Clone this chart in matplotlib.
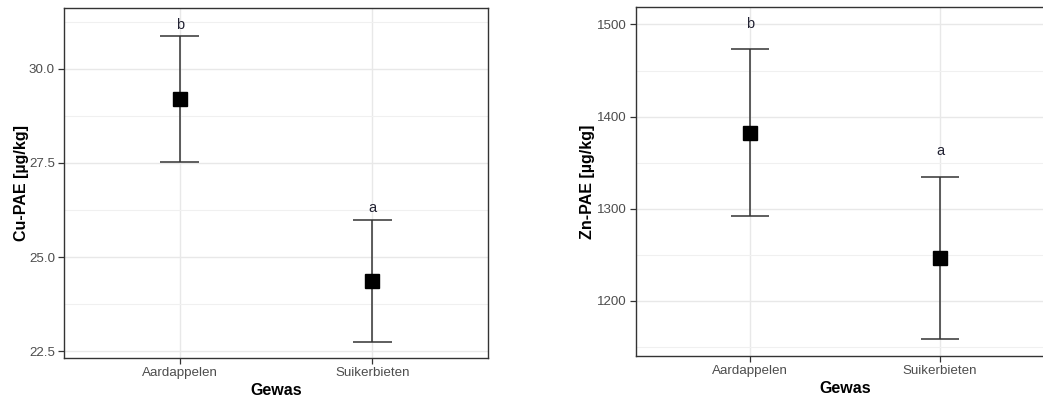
import matplotlib
matplotlib.use("Agg")
import matplotlib.pyplot as plt
from matplotlib.ticker import MultipleLocator

plt.rcParams['font.family'] = ['Liberation Sans', 'DejaVu Sans']

crops = ['Aardappelen', 'Suikerbieten']

# Cu: mean, lower and upper interval bounds, significance letters
cu_mean = [29.20, 24.36]
cu_low = [27.52, 22.75]
cu_high = [30.88, 25.98]
cu_letters = ['b', 'a']
cu_letter_y = [31.16, 26.30]

# Zn
zn_mean = [1382, 1246]
zn_low = [1292, 1158]
zn_high = [1473, 1334]
zn_letters = ['b', 'a']
zn_letter_y = [1500, 1363]

W, H = 1043, 403
fig = plt.figure(figsize=(W / 100, H / 100), dpi=100)


def px_axes(left, top, right, bottom):
    return fig.add_axes([left / W, 1 - bottom / H, (right - left) / W, (bottom - top) / H])


def panel(ax, mean, low, high, letters, letter_y, ylabel, ylim, major, minor, fmt, labelpad):
    x = list(range(1, len(crops) + 1))
    ax.set_xlim(0.4, 2.6)
    ax.set_ylim(*ylim)
    ax.yaxis.set_major_locator(MultipleLocator(major))
    ax.yaxis.set_minor_locator(MultipleLocator(minor))
    ax.yaxis.set_major_formatter(fmt)
    ax.set_xticks(x)
    ax.set_xticklabels(crops)

    ax.grid(which='major', color='#e8e8e8', lw=1.0, zorder=0)
    ax.grid(which='minor', axis='y', color='#f0f0f0', lw=0.8, zorder=0)

    ax.vlines(x, low, high, color='#333333', lw=1.1, zorder=2)
    ax.hlines(low, [v - 0.1 for v in x], [v + 0.1 for v in x], color='#333333', lw=1.1, zorder=2)
    ax.hlines(high, [v - 0.1 for v in x], [v + 0.1 for v in x], color='#333333', lw=1.1, zorder=2)
    ax.plot(x, mean, ls='none', marker='s', ms=10, color='black', zorder=3)

    for xi, yi, t in zip(x, letter_y, letters):
        ax.text(xi, yi, t, ha='center', va='center', fontsize=10.5, color='#222233')

    for s in ax.spines.values():
        s.set_color('#333333')
        s.set_linewidth(1.0)
    ax.tick_params(which='major', length=4, width=0.9, color='#333333',
                   labelcolor='#4d4d4d', labelsize=9.6, pad=2.5)
    ax.tick_params(which='minor', length=0)
    ax.set_xlabel('Gewas', fontsize=11.5, fontweight='bold', labelpad=3)
    ax.set_ylabel(ylabel, fontsize=11.5, fontweight='bold', labelpad=labelpad)


ax1 = px_axes(64, 8, 488, 358)
panel(ax1, cu_mean, cu_low, cu_high, cu_letters, cu_letter_y, 'Cu-PAE [µg/kg]',
      (22.32, 31.61), 2.5, 1.25, '{x:.1f}', 0)

ax2 = px_axes(636, 7, 1054, 356)
panel(ax2, zn_mean, zn_low, zn_high, zn_letters, zn_letter_y, 'Zn-PAE [µg/kg]',
      (1140, 1519), 100, 50, '{x:.0f}', 1.5)

fig.savefig('out.png', dpi=100)
